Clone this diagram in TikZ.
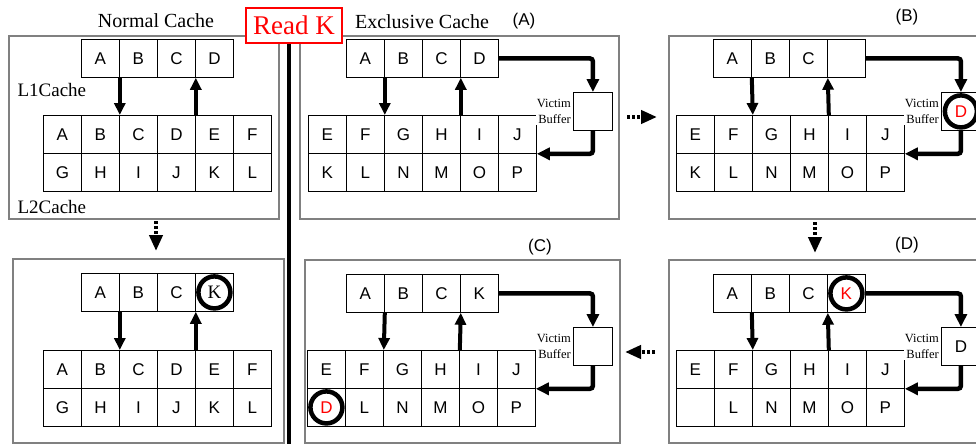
\documentclass[tikz,border=0pt]{standalone}
\usepackage{fontspec}
\setmainfont{Liberation Serif}
\newfontfamily\cellsans{Liberation Sans}
\usetikzlibrary{arrows.meta,calc}

\tikzset{
  cell/.style={draw, line width=0.8pt, minimum width=38pt, minimum height=38pt,
    inner sep=0pt, anchor=north west, font=\cellsans\fontsize{17}{20}\selectfont},
  vbox/.style={draw, line width=0.8pt, minimum width=39pt, minimum height=38pt,
    inner sep=0pt, anchor=north west, font=\cellsans\fontsize{17}{20}\selectfont},
  frame/.style={draw=black!50, line width=2pt, anchor=north west, inner sep=0pt},
  updown/.style={line width=4pt, -{Triangle[width=11pt,length=12pt]}},
  vict/.style={line width=4.5pt, rounded corners=3pt, -{Triangle[width=12pt,length=13pt]}},
  flow/.style={line width=4pt, dash pattern=on 3pt off 2pt, -{Triangle[width=13pt,length=16pt]}},
  vlabel/.style={fill=white, align=right, font=\fontsize{12.5}{16}\selectfont,
    inner sep=1pt, anchor=east},
  ring/.style={circle, draw, line width=4.5pt, minimum size=32pt, inner sep=0pt},
  title/.style={font=\fontsize{20}{24}\selectfont},
  tag/.style={font=\cellsans\fontsize{17}{20}\selectfont},
  lvl/.style={anchor=west, font=\fontsize{19}{22}\selectfont},
}

\newcommand{\cachepanel}[8]{%
  \foreach \t [count=\i] in {#6} {\node[cell] (#1-l1-\i) at ({#2+38*(\i-1)},#3) {\t};}
  \foreach \t [count=\i] in {#7} {\node[cell] (#1-l2a-\i) at ({#4+38*(\i-1)},#5) {\t};}
  \foreach \t [count=\i] in {#8} {\node[cell] (#1-l2b-\i) at ({#4+38*(\i-1)},{#5+38}) {\t};}
  \draw[updown] (#1-l1-1.south east) -- (#1-l2a-2.north east);
  \draw[updown] (#1-l2a-4.north east) -- (#1-l1-3.south east);
}
\newcommand{\victimbuf}[4]{%
  \node[vbox] (#1-vb) at (#2,#3) {#4};
  \node[vlabel] (#1-vl) at ([xshift=-1pt]#1-vb.west) {Victim\\Buffer};
  \draw[vict] (#1-l1-4.east) -| (#1-vb.north);
  \draw[vict] (#1-vb.south) |- (#1-l2a-6.south east);
}

\begin{document}
\begin{tikzpicture}[x=1pt,y=-1pt]
\useasboundingbox (0,0) rectangle (976,444);

% frames
\node[frame, minimum width=270pt, minimum height=183pt] (NT) at (8,35) {};
\node[frame, minimum width=271pt, minimum height=184pt] (NB) at (12,258) {};
\node[frame, minimum width=319pt, minimum height=183pt] (PA) at (299,35) {};
\node[frame, minimum width=330pt, minimum height=183pt] (PB) at (668,35) {};
\node[frame, minimum width=315pt, minimum height=183pt] (PC) at (304,259) {};
\node[frame, minimum width=330pt, minimum height=183pt] (PD) at (668,259) {};

% titles
\node[title] (tnc) at (156,21) {Normal Cache};
\node[title] (tec) at (422,22) {Exclusive Cache};
\node[tag] (ta) at (524,21) {(A)};
\node[tag] (tb) at (907,17) {(B)};
\node[tag] (tc) at (540,247) {(C)};
\node[tag] (td) at (907,245) {(D)};
\node[lvl] (l1lab) at (14,90) {L1Cache};
\node[lvl] (l2lab) at (14,207) {L2Cache};

% normal cache, top
\cachepanel{N1}{81}{39}{43}{115}{A,B,C,D}{A,B,C,D,E,F}{G,H,I,J,K,L}
% normal cache, bottom
\cachepanel{N2}{81}{273}{43}{350}{A,B,C,{}}{A,B,C,D,E,F}{G,H,I,J,K,L}
\node[ring, font=\fontsize{19}{22}\selectfont] (N2k) at (N2-l1-4.center) {K};

% exclusive (A)
\cachepanel{A}{346}{39}{308}{115}{A,B,C,D}{E,F,G,H,I,J}{K,L,N,M,O,P}
\victimbuf{A}{573}{92}{}
% exclusive (B)
\cachepanel{B}{713}{39}{676}{115}{A,B,C,{}}{E,F,G,H,I,J}{K,L,N,M,O,P}
\victimbuf{B}{941}{92}{}
\node[ring, tag, text=red] (Bd) at (B-vb.center) {D};
% exclusive (C)
\cachepanel{C}{346}{274}{307}{350}{A,B,C,K}{E,F,G,H,I,J}{{},L,N,M,O,P}
\victimbuf{C}{573}{327}{}
\node[ring, tag, text=red] (Cd) at (C-l2b-1.center) {D};
% exclusive (D)
\cachepanel{D}{713}{274}{676}{350}{A,B,C,{}}{E,F,G,H,I,J}{{},L,N,M,O,P}
\victimbuf{D}{941}{327}{D}
\node[ring, tag, text=red] (Dk) at (D-l1-4.center) {K};

% step arrows between panels
\coordinate (s1a) at (156,221); \coordinate (s1b) at (156,251);
\coordinate (s2a) at (627,117); \coordinate (s2b) at (657,117);
\coordinate (s3a) at (815,222); \coordinate (s3b) at (815,253);
\coordinate (s4a) at (655,352); \coordinate (s4b) at (625,352);
\draw[flow] (s1a) -- (s1b);
\draw[flow] (s2a) -- (s2b);
\draw[flow] (s3a) -- (s3b);
\draw[flow] (s4a) -- (s4b);

% divider and Read K
\draw[line width=4pt] (289,43) -- (289,444);
\node[draw=red, line width=1.6pt, fill=white, text=red, font=\fontsize{27}{30}\selectfont,
  minimum width=96pt, minimum height=35pt, inner sep=0pt] (readk) at (294,25.5) {Read K};
\end{tikzpicture}
\end{document}
